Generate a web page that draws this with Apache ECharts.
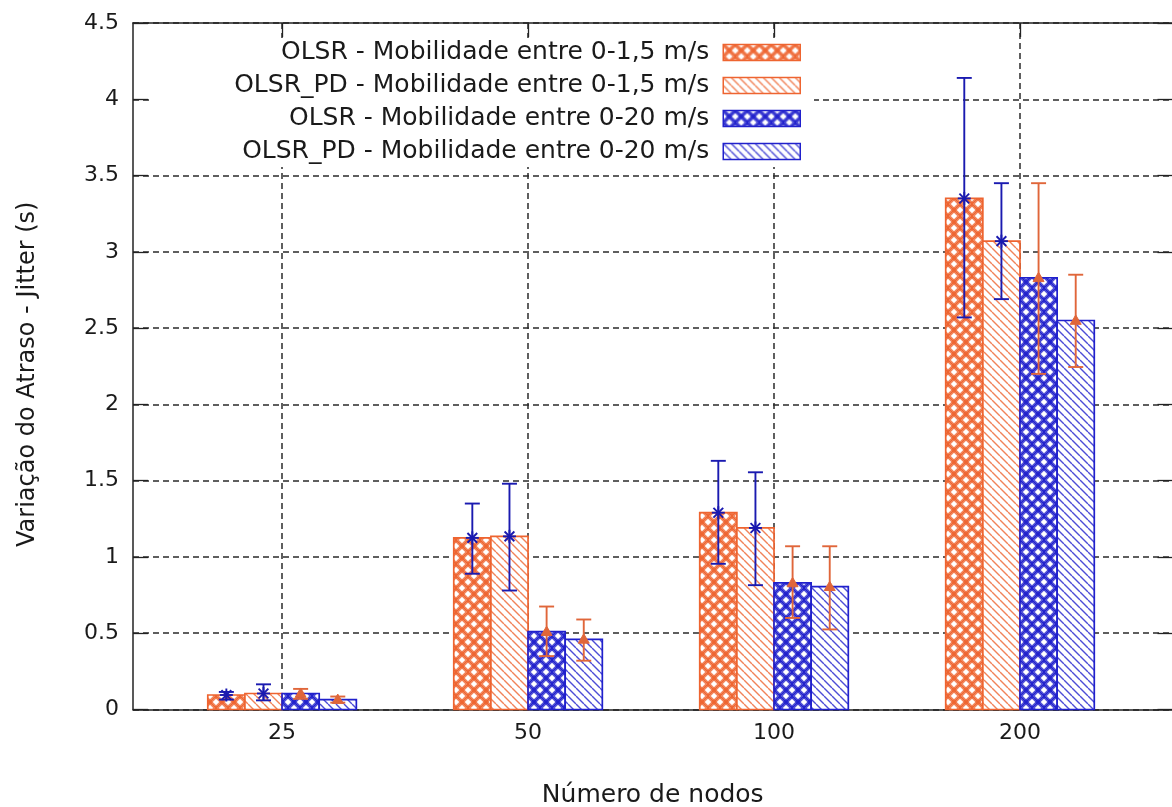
<!DOCTYPE html>
<html>
<head>
<meta charset="utf-8">
<script src="https://cdn.jsdelivr.net/npm/echarts@6/dist/echarts.min.js"></script>
<style>
  html, body { margin: 0; padding: 0; background: #fff; }
  #chart { width: 1172px; height: 807px; }
</style>
</head>
<body>
<div id="chart"></div>
<script>
// ---------------- data ----------------
const categories = ['25', '50', '100', '200'];
const seriesNames = [
  'OLSR - Mobilidade entre 0-1,5 m/s',
  'OLSR_PD - Mobilidade entre 0-1,5 m/s',
  'OLSR - Mobilidade entre 0-20 m/s',
  'OLSR_PD - Mobilidade entre 0-20 m/s'
];
const olsr15      = [0.095, 1.125, 1.29, 3.35];
const olsr15Low   = [0.065, 0.89, 0.955, 2.57];
const olsr15High  = [0.115, 1.35, 1.63, 4.14];

const olsrpd15     = [0.105, 1.135, 1.19, 3.07];
const olsrpd15Low  = [0.06, 0.78, 0.815, 2.69];
const olsrpd15High = [0.165, 1.48, 1.555, 3.45];

const olsr20      = [0.105, 0.51, 0.83, 2.83];
const olsr20Low   = [0.07, 0.35, 0.60, 2.20];
const olsr20High  = [0.135, 0.675, 1.07, 3.45];

const olsrpd20     = [0.065, 0.46, 0.805, 2.55];
const olsrpd20Low  = [0.045, 0.32, 0.525, 2.245];
const olsrpd20High = [0.085, 0.59, 1.07, 2.85];

const yTicks = [0, 0.5, 1, 1.5, 2, 2.5, 3, 3.5, 4, 4.5];

// ---------------- styles ----------------
const FONT = 'DejaVu Sans';
const ORANGE = '#ee6430';
const BLUE = '#2020cc';
const ERR_BLUE = '#1a1ab0';
const ERR_ORANGE = '#e0663a';

function crossPattern(color) {
  const n = 12;
  const c = document.createElement('canvas');
  c.width = n; c.height = n;
  const g = c.getContext('2d');
  g.fillStyle = '#fff';
  g.fillRect(0, 0, n, n);
  g.strokeStyle = color;
  g.lineWidth = 4;
  g.globalAlpha = 0.8;
  for (const o of [-n, 0, n]) {
    g.beginPath(); g.moveTo(o, 0); g.lineTo(o + n, n); g.stroke();
    g.beginPath(); g.moveTo(o + n, 0); g.lineTo(o, n); g.stroke();
  }
  g.globalAlpha = 1;
  g.lineWidth = 1;
  for (const o of [-n, 0, n]) {
    g.beginPath(); g.moveTo(o, 0); g.lineTo(o + n, n); g.stroke();
    g.beginPath(); g.moveTo(o + n, 0); g.lineTo(o, n); g.stroke();
  }
  return { image: c, repeat: 'repeat' };
}
function diagPattern(color) {
  const n = 8;
  const c = document.createElement('canvas');
  c.width = n; c.height = n;
  const g = c.getContext('2d');
  g.fillStyle = '#fff';
  g.fillRect(0, 0, n, n);
  g.strokeStyle = color;
  g.lineWidth = 1.4;
  g.globalAlpha = 0.8;
  for (const o of [-n, 0, n]) {
    g.beginPath(); g.moveTo(o, 0); g.lineTo(o + n, n); g.stroke();
  }
  return { image: c, repeat: 'repeat' };
}

const fills = [crossPattern(ORANGE), diagPattern(ORANGE), crossPattern(BLUE), diagPattern(BLUE)];
const borders = [ORANGE, ORANGE, BLUE, BLUE];
const errColors = [ERR_BLUE, ERR_BLUE, ERR_ORANGE, ERR_ORANGE];
const markers = ['star', 'star', 'tri', 'tri'];

const values = [olsr15, olsrpd15, olsr20, olsrpd20];
const lows = [olsr15Low, olsrpd15Low, olsr20Low, olsrpd20Low];
const highs = [olsr15High, olsrpd15High, olsr20High, olsrpd20High];

const BW = 0.151;           // bar width in axis units
const CAP = 7.5;            // half cap width px

function makeRender(k) {
  return function (params, api) {
    const xi = api.value(0), v = api.value(1), lo = api.value(2), hi = api.value(3);
    const xc = xi + (k - 1.5) * BW;
    const pA = api.coord([xc - BW / 2, 0]);
    const pB = api.coord([xc + BW / 2, v]);
    const pc = api.coord([xc, v]);
    const pl = api.coord([xc, lo]);
    const ph = api.coord([xc, hi]);
    const ec = errColors[k];
    const lw = 1.9;
    const children = [
      {
        type: 'rect',
        shape: { x: pA[0], y: pB[1], width: pB[0] - pA[0], height: pA[1] - pB[1] },
        style: { fill: fills[k], stroke: borders[k], lineWidth: 1.7 }
      },
      { type: 'line', shape: { x1: pl[0], y1: pl[1], x2: ph[0], y2: ph[1] }, style: { stroke: ec, lineWidth: lw } },
      { type: 'line', shape: { x1: pl[0] - CAP, y1: pl[1], x2: pl[0] + CAP, y2: pl[1] }, style: { stroke: ec, lineWidth: lw } },
      { type: 'line', shape: { x1: ph[0] - CAP, y1: ph[1], x2: ph[0] + CAP, y2: ph[1] }, style: { stroke: ec, lineWidth: lw } }
    ];
    if (markers[k] === 'star') {
      const s = 6.5;
      children.push(
        { type: 'line', shape: { x1: pc[0] - s, y1: pc[1], x2: pc[0] + s, y2: pc[1] }, style: { stroke: ec, lineWidth: lw } },
        { type: 'line', shape: { x1: pc[0], y1: pc[1] - s, x2: pc[0], y2: pc[1] + s }, style: { stroke: ec, lineWidth: lw } },
        { type: 'line', shape: { x1: pc[0] - s * 0.75, y1: pc[1] - s * 0.75, x2: pc[0] + s * 0.75, y2: pc[1] + s * 0.75 }, style: { stroke: ec, lineWidth: lw } },
        { type: 'line', shape: { x1: pc[0] - s * 0.75, y1: pc[1] + s * 0.75, x2: pc[0] + s * 0.75, y2: pc[1] - s * 0.75 }, style: { stroke: ec, lineWidth: lw } }
      );
    } else {
      const s = 5.5;
      children.push({
        type: 'polygon',
        shape: { points: [[pc[0], pc[1] - s], [pc[0] - s, pc[1] + s * 0.7], [pc[0] + s, pc[1] + s * 0.7]] },
        style: { fill: ec, stroke: ec, lineWidth: 1 }
      });
    }
    return { type: 'group', children };
  };
}

const series = seriesNames.map((name, k) => ({
  name,
  type: 'custom',
  renderItem: makeRender(k),
  encode: { x: 0, y: [1, 2, 3] },
  itemStyle: { color: fills[k], borderColor: borders[k], borderWidth: 1.6 },
  data: categories.map((c, i) => [i, values[k][i], lows[k][i], highs[k][i]]),
  z: 2
}));

const legendCenters = [52, 85, 118, 151];
const legends = seriesNames.map((name, k) => ({
  data: [{ name, icon: 'rect', itemStyle: { color: fills[k], borderColor: borders[k], borderWidth: 1.5 } }],
  orient: 'vertical',
  align: 'right',
  right: 371,
  top: legendCenters[k] - 12,
  padding: 0,
  itemWidth: 77,
  itemHeight: 16,
  selectedMode: false,
  z: 5,
  textStyle: { fontFamily: FONT, fontSize: 25, color: '#1a1a1a', padding: [0, 9, 0, 0] }
}));

const tickIdx = categories.map((c, i) => i);
const gridLine = { show: true, lineStyle: { color: '#2a2a2a', width: 1.5, type: [6, 4] } };

const option = {
  animation: false,
  backgroundColor: '#fff',
  grid: { left: 133, top: 23, width: 1039.5, height: 686.5, containLabel: false, outerBoundsMode: 'none' },
  legend: legends,
  graphic: [{
    type: 'rect', z: 1,
    shape: { x: 150, y: 38, width: 664, height: 129 },
    style: { fill: '#fff' }
  }],
  xAxis: [{
    type: 'value', position: 'bottom',
    min: -0.606, max: 3.62,
    name: 'Número de nodos', nameLocation: 'middle', nameGap: 73,
    nameTextStyle: { fontFamily: FONT, fontSize: 25, color: '#1a1a1a' },
    axisLine: { show: true, onZero: false, lineStyle: { color: '#222', width: 1.5 } },
    axisTick: { show: true, inside: true, length: 15, customValues: tickIdx, lineStyle: { color: '#222', width: 1.3 } },
    axisLabel: { customValues: tickIdx, margin: 13, fontFamily: FONT, fontSize: 22, color: '#1a1a1a',
      formatter: v => categories[Math.round(v)] },
    splitLine: gridLine
  }, {
    type: 'value', position: 'top',
    min: -0.606, max: 3.62,
    axisLine: { show: true, onZero: false, lineStyle: { color: '#222', width: 1.5 } },
    axisTick: { show: true, inside: true, length: 14, customValues: tickIdx, lineStyle: { color: '#222', width: 1.3 } },
    axisLabel: { show: false },
    splitLine: { show: false }
  }],
  yAxis: [{
    type: 'value', position: 'left',
    min: yTicks[0], max: yTicks[yTicks.length - 1], interval: 0.5,
    name: 'Variação do Atraso - Jitter (s)', nameLocation: 'middle', nameGap: 93, nameRotate: 90,
    nameTextStyle: { fontFamily: FONT, fontSize: 24, color: '#1a1a1a', padding: [0, 16, 0, 0] },
    axisLine: { show: true, onZero: false, lineStyle: { color: '#222', width: 1.5 } },
    axisTick: { show: true, inside: true, length: 15, lineStyle: { color: '#222', width: 1.3 } },
    axisLabel: { margin: 14, fontFamily: FONT, fontSize: 22, color: '#1a1a1a' },
    splitLine: gridLine
  }, {
    type: 'value', position: 'right',
    min: yTicks[0], max: yTicks[yTicks.length - 1], interval: 0.5,
    axisLine: { show: false, onZero: false },
    axisTick: { show: true, inside: true, length: 15, lineStyle: { color: '#222', width: 1.3 } },
    axisLabel: { show: false },
    splitLine: { show: false }
  }],
  series
};

const chart = echarts.init(document.getElementById('chart'), null, { renderer: 'canvas' });
chart.setOption(option);
</script>
</body>
</html>
